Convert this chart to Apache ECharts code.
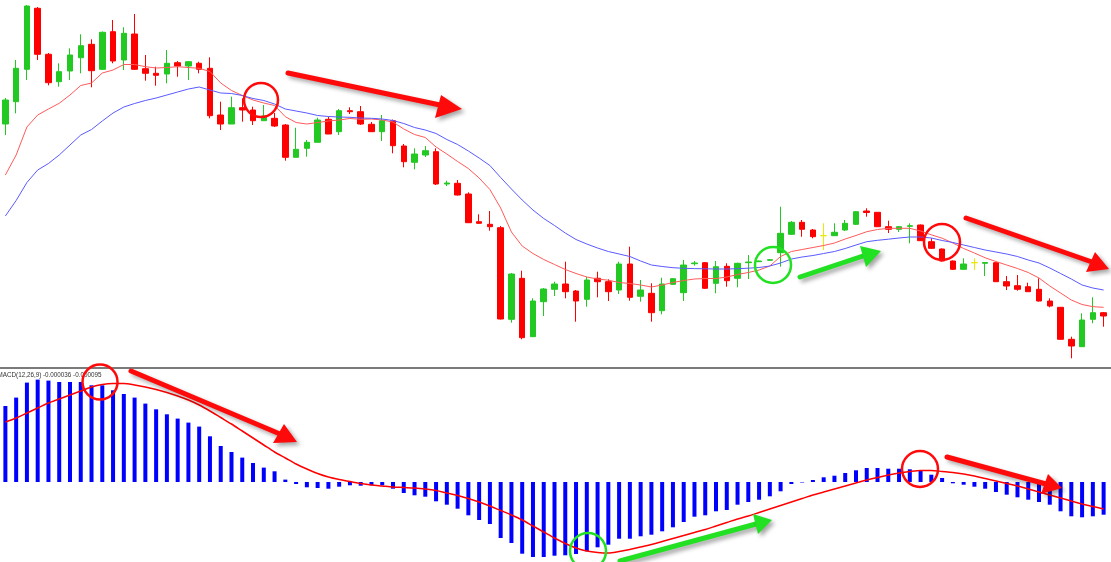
<!DOCTYPE html>
<html>
<head>
<meta charset="utf-8">
<script src="https://cdn.jsdelivr.net/npm/echarts@6/dist/echarts.min.js"></script>
<style>
html,body{margin:0;padding:0;background:#fff;}
#chart{width:1111px;height:562px;}
</style>
</head>
<body>
<div id="chart"></div>
<script>
// ---- price candles (arbitrary price units) ----
const opens = [241,263.3,295.7,356.7,310.7,283.3,294,307.3,320.7,295.7,
333.3,305,331,296.3,291.7,291,302.3,299,301.7,296.7,
250,241,257.3,255,244.3,246.7,240,207.7,216.7,222.7,
245.7,233.3,254.3,253.3,240.7,233.3,244.3,219,202.7,210,
213.3,181,181.7,171,143.3,140.7,137.3,45.7,86.7,28.3,
63.3,75.7,81,74,65.7,86.7,83.3,75,101,68.7,
71.7,54.3,80.7,72.3,101.3,102.3,81.7,98.7,86.7,102.3,
103.3,104.7,112.3,130.7,142.7,135,129.3,129.3,135,140.7,
154,152.7,138.3,135.7,138.7,140,123.3,116,104,95.7,
102.3,101.7,102.3,83.3,79.3,78.3,75.7,64,57.7,25.7,
18.3,45.7,52.3];
const closes = [265,296.7,359,310.7,282.3,293.3,310,319.3,294.3,332.7,
304,331.7,295.7,291.7,289.7,301.7,299,303.3,295.7,249.3,
241,257.3,255,244.3,249,239,207.7,215.7,222.7,245,
231,254.3,253.3,241,233.3,244.3,219.3,203.3,211,214.3,
181,182,170,142.3,141.7,138.3,46,91,27.3,64,
76,81,73.3,64,85,83.3,73.3,101,67.7,75,
52.3,81,86.3,100,102,76.7,98.3,84.3,101.7,103,
104,105.3,131.7,142.7,135.7,128.3,129.3,132.7,141.7,153.3,
152.5,138.3,135.7,138.3,139.3,124.3,116.7,104,95.7,101,
102.3,102.5,83.3,79,75.7,73.3,64,59,25.7,19,
45,52.3,49];
const lows = [230,251.7,285,305,279.7,278.3,285,291.7,277.7,295,
301.7,295,295,284.3,279.3,281.7,288.3,285,291.7,246.7,
235,241,243.3,240,244,238,204.3,207.7,208.3,222.7,
231,230,251,240,233,224,211.7,197.7,195.7,208,
180,179,169.5,142,141,134.3,45.5,42.3,25.7,28,
49,69,66.7,43.3,58.3,67.7,64,71,64.3,63.3,
43.3,50.7,80,64,99.3,76,71.7,78.3,77.7,86,
103,104,98.3,130,128.3,126.7,115,129,134,140,
148.3,138,132,133,121.7,124,116,103.5,95,95,
95,89,83,75,74.3,73,63.5,57.7,25.5,6.7,
18,41.7,38.3];
const highs = [267,305,360,358,312,301.7,316.7,330.7,325.7,333.5,
345,337.7,351,310,298.3,315,304,304,303.3,307.7,
263.3,268.3,266.7,258.3,260,252,241,237.3,225,247.3,
248.3,256,257.7,259,243,250,245.5,221,216.7,219,
216.7,184.3,185,172.7,150.7,154,139,92,94.3,66.7,
77,83.3,103.3,75,88.3,93.3,85.7,103.3,118.3,85,
81.7,87.3,87,105,104,103,104,101.7,102.3,110,
104.5,106,158.3,144,145,136,141.7,141.7,145,154,
156.7,153,144.3,139,141.7,140.5,126.7,116.5,104.5,106.7,
106.7,102.7,102.7,89,90,82.3,86.7,66.7,58,28.3,
51.7,67.7,53];

// ---- moving averages (fast red, slow blue) ----
const maFast = [190,210,238,250,256,261.7,270,279.5,282,292,
295,300.5,300.5,298.3,297,297.5,298.3,297.5,296.7,293.5,
282,274.5,269.5,265,262,259.5,248.3,242.5,241,242.5,
244,245,246.5,245.7,246,245,243,236,230.5,227.5,
218,211,203.5,196.5,187,175.5,157,133,119,111.5,
105.5,100.5,95.5,91.5,88,86,84.8,82.5,81.5,80,
78,80,82.5,84.5,86,86.5,86.5,88,90.5,92.5,
95,99,108.5,113.5,115.5,117.5,119.5,122,126,129.5,
133.3,135.5,136.7,136.7,136.7,134,130.2,126.8,122,116.5,
112,107.2,103.5,100,96.5,92.5,87,79,72,65,
60.5,58.3,57.7];
const maSlow = [149,164.5,182.5,195,201.5,210,220,230,235.5,244,
252,258,261.5,264.5,267,270,273,276,278,275,
272,271.5,269.5,266.5,264.5,261,256,254,252,249.5,
248.5,248,247.7,247,246.7,246,244.5,241.5,237.5,235,
231.5,225.5,220.5,214,207,199.5,187.5,176,165,155,
146.5,139.5,132,125.5,121,117,113.5,111,108.5,104,
100,98.5,97.3,96.7,96.4,96.2,96,96,96.3,96.8,
97.5,99,102,106,108,109.5,111.5,113.5,116.5,120,
123.3,124.7,125.8,127,128,128,127,124.5,122.5,120,
117.5,115,113,111,108.5,105,102,97,91.5,86,
80,77,75];

// ---- MACD(12,26,9): main (histogram) and signal ----
const macdHist = [76,84.4,99.4,102.4,101.4,100,100,100,96.7,96.7,
91.7,88,84.4,78.4,72.7,67.7,63.4,59.4,55.4,45.7,
36,30,24.4,19,14.4,10.7,2.4,-2,-5.3,-6,
-6.7,-4.7,-3.3,-3.7,-3.3,-3.3,-6.7,-11,-13.3,-14.7,
-19.3,-22.7,-26.7,-33.3,-38,-42,-56,-61,-71.7,-75,
-75,-73.7,-73.3,-72,-69.3,-65.3,-62.7,-56.7,-56.7,-54.3,
-52.7,-49.3,-45.3,-40,-34.7,-33.3,-29.3,-28,-22.7,-20,
-17.7,-14.3,-9.3,-2,-0.5,2,4.7,6.3,9,11.7,
14,14,13.3,13.3,12.7,11.3,7.3,4,-1.3,-2.7,
-4.7,-6.7,-10,-12.7,-15.3,-17.7,-20,-22.7,-29.3,-34.3,
-35.3,-34.3,-32.7];
const macdSignal = [60,64,69,74,79,83,87,91,95,97.5,
98.5,98.5,97,95,92.5,89.5,86,82,77,71,
64.5,58,51,44,37,30,24,18,13,8.5,
5,2.5,0.5,-1.5,-3,-4,-5,-5.5,-6,-7,
-8.5,-11,-13.5,-16.5,-20,-24,-28.5,-33,-38,-44,
-50,-56,-61.5,-66,-69,-70.5,-71,-69.5,-67.5,-65,
-62.5,-59.5,-56.5,-53.5,-50.5,-47.5,-44,-40.5,-37,-34,
-30.5,-27,-23.5,-20,-16.5,-13,-10,-7,-4,-1,
2,4.5,7,9,10.5,11.5,11.5,10.5,9.5,8,
6,3.5,1,-1.5,-4,-7,-10,-13,-16,-19,
-22,-24.5,-27];
const macdLabel = 'MACD(12,26,9) -0.000036 -0.000095';

const categories = opens.map((_, i) => 'Bar ' + (i + 1));

const UP = '#22c922', DOWN = '#ff0000', DOJI = '#e8e800';
const candleData = opens.map((o, i) => {
  const item = { value: [o, closes[i], lows[i], highs[i]] };
  if (o === closes[i]) {
    item.itemStyle = { color: DOJI, color0: DOJI, borderColor: DOJI, borderColor0: DOJI };
  }
  return item;
});

const chart = echarts.init(document.getElementById('chart'), null, { renderer: 'canvas' });

const shadow = { shadowBlur: 4, shadowOffsetX: 3, shadowOffsetY: 3, shadowColor: 'rgba(0,0,0,0.35)' };
function arrow(tail, base, tip, c1, c2, color) {
  return [
    { type: 'line', z: 100, shape: { x1: tail[0], y1: tail[1], x2: base[0], y2: base[1] },
      style: Object.assign({ stroke: color, lineWidth: 5, lineCap: 'round' }, shadow) },
    { type: 'polygon', z: 101, shape: { points: [tip, c1, c2] },
      style: Object.assign({ fill: color }, shadow) }
  ];
}
function ring(cx, cy, r, color) {
  return { type: 'circle', z: 102, shape: { cx: cx, cy: cy, r: r },
    style: { fill: 'none', stroke: color, lineWidth: 2.5 } };
}
const RED = '#ff0a0a', GREEN = '#22e022';
const graphics = [].concat(
  [{ type: 'rect', z: 50, shape: { x: 0, y: 367, width: 1111, height: 2 }, style: { fill: '#7a7a7a' } },
   { type: 'text', z: 60, x: -2.5, y: 372, style: { text: macdLabel, fontSize: 6.3, fontFamily: 'Liberation Sans, Arial, sans-serif', fill: '#333' } }],
  arrow([288, 73], [440, 105], [462, 109], [441, 95], [435, 118], RED),
  arrow([131, 371], [280, 434], [297, 442], [284, 424], [273, 443], RED),
  arrow([966, 218], [1092, 262], [1109, 269], [1095, 252], [1086, 272], RED),
  arrow([947, 457], [1046, 484], [1062, 488], [1048, 474], [1041, 494], RED),
  arrow([800, 277], [863, 256], [881, 251], [860, 246], [866, 267], GREEN),
  arrow([620, 561], [756, 524], [772, 520], [753, 514], [758, 534], GREEN),
  [ring(261, 100, 17, RED), ring(942, 242, 18, RED), ring(773, 265, 18, GREEN),
   ring(100, 382, 17.5, RED), ring(588, 551, 18, GREEN), ring(920, 469, 18, RED)]
);

chart.setOption({
  animation: false,
  backgroundColor: '#ffffff',
  grid: [
    { left: -1, right: 2, top: 0, height: 365 },
    { left: -1, right: 2, top: 370, height: 192 }
  ],
  xAxis: [
    { type: 'category', gridIndex: 0, data: categories, boundaryGap: true, show: false },
    { type: 'category', gridIndex: 1, data: categories, boundaryGap: true, show: false }
  ],
  yAxis: [
    { type: 'value', gridIndex: 0, min: 0, max: 365, show: false, splitLine: { show: false } },
    { type: 'value', gridIndex: 1, min: -80, max: 112, show: false, splitLine: { show: false } }
  ],
  series: [
    { type: 'candlestick', xAxisIndex: 0, yAxisIndex: 0, barWidth: 6, data: candleData,
      itemStyle: { color: UP, color0: DOWN, borderColor: UP, borderColor0: DOWN, borderWidth: 1 } },
    { type: 'line', xAxisIndex: 0, yAxisIndex: 0, data: maFast, symbol: 'none', z: 3,
      lineStyle: { color: '#ff5a5a', width: 1 } },
    { type: 'line', xAxisIndex: 0, yAxisIndex: 0, data: maSlow, symbol: 'none', z: 3,
      lineStyle: { color: '#5a5aff', width: 1 } },
    { type: 'bar', xAxisIndex: 1, yAxisIndex: 1, data: macdHist, barWidth: 4,
      itemStyle: { color: '#0000ff' } },
    { type: 'line', xAxisIndex: 1, yAxisIndex: 1, data: macdSignal, symbol: 'none', z: 4, smooth: 0.3,
      lineStyle: { color: '#ff0000', width: 1.5 } }
  ],
  graphic: graphics
});
</script>
</body>
</html>
